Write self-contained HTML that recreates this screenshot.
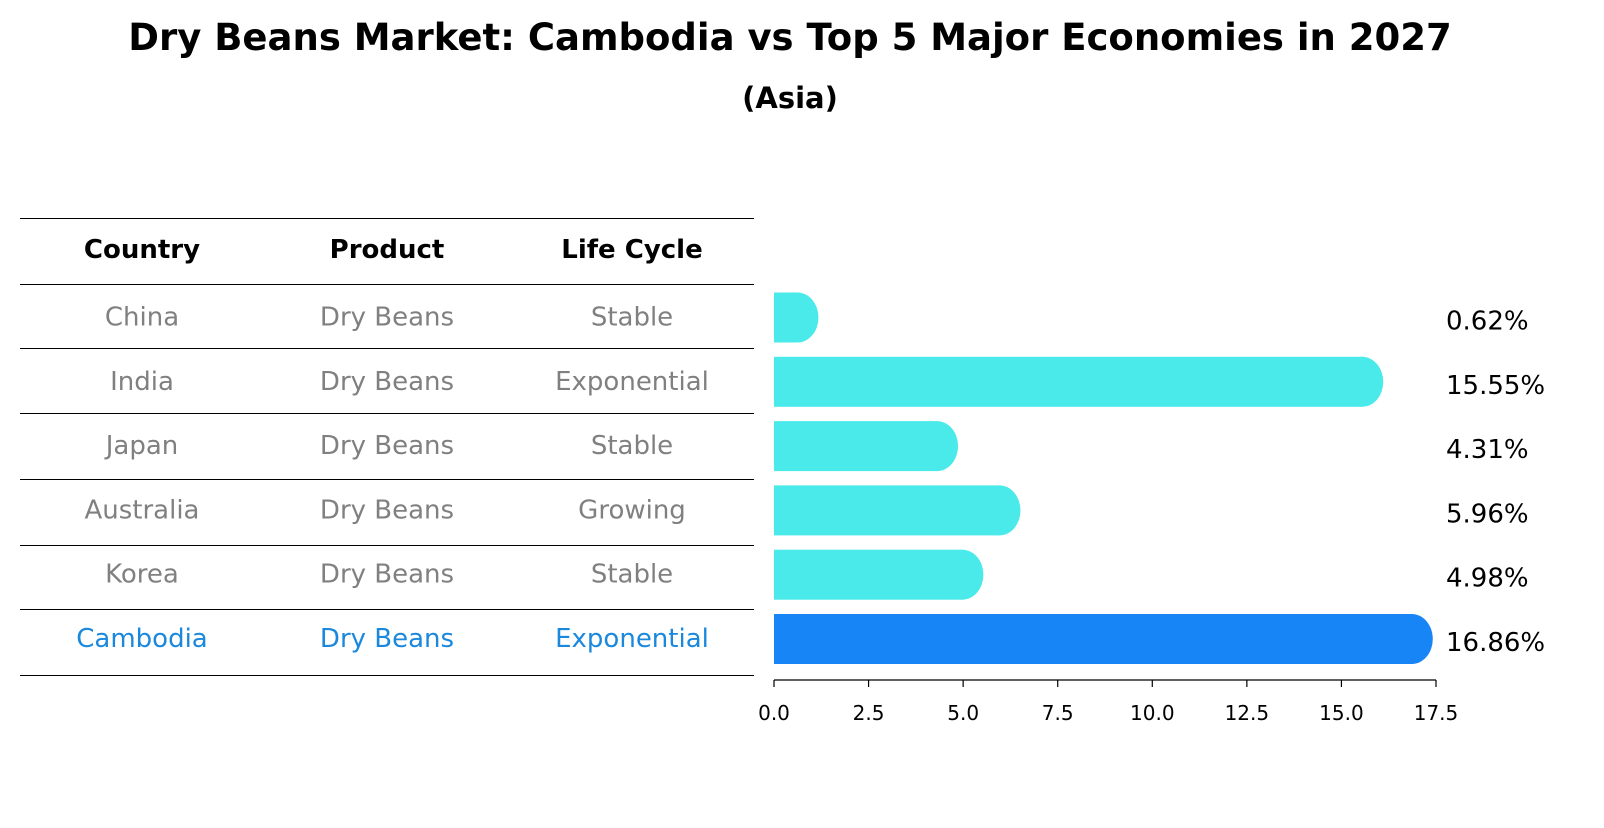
<!DOCTYPE html>
<html><head><meta charset="utf-8"><style>
body{margin:0;background:#fff;font-family:"Liberation Sans","DejaVu Sans",sans-serif}
svg text{font-family:"DejaVu Sans","Liberation Sans",sans-serif}
</style></head><body>
<svg id="c" width="1604" height="823" xmlns="http://www.w3.org/2000/svg">
<defs><clipPath id="clipBars"><rect x="774" y="250" width="800" height="440"/></clipPath></defs>
<text x="790" y="50" text-anchor="middle" font-size="37" font-weight="bold">Dry Beans Market: Cambodia vs Top 5 Major Economies in 2027</text>
<text x="790" y="108" text-anchor="middle" font-size="29" font-weight="bold">(Asia)</text>
<g id="table"></g>
<g id="bars"></g>
</svg>
<script>
const countries=["China","India","Japan","Australia","Korea","Cambodia"];
const products=["Dry Beans","Dry Beans","Dry Beans","Dry Beans","Dry Beans","Dry Beans"];
const lifecycles=["Stable","Exponential","Stable","Growing","Stable","Exponential"];
const values=[0.62,15.55,4.31,5.96,4.98,16.86];
const ticks=[0,2.5,5,7.5,10,12.5,15,17.5];
const NS="http://www.w3.org/2000/svg";
function mk(t,a,p){const e=document.createElementNS(NS,t);for(const k in a)e.setAttribute(k,a[k]);p.appendChild(e);return e;}
const x=v=>774+v*(662/17.5);
const rowY=i=>317.5+i*64.3;
const tb=document.getElementById('table'), bg=document.getElementById('bars');
const barLayer=mk('g',{'clip-path':'url(#clipBars)'},bg);
const lines=[218,284,348,413,479,545,609,675];
lines.forEach(y=>{const l=mk('line',{x1:20,x2:754,y1:y+0.5,y2:y+0.5,stroke:'#000','stroke-width':1},tb);

});
const cols=[142,387,632];
["Country","Product","Life Cycle"].forEach((h,j)=>{const t=mk('text',{x:cols[j],y:258,'text-anchor':'middle','font-size':26,'font-weight':'bold'},tb);t.textContent=h;

});
countries.forEach((c,i)=>{
 const col=c==="Cambodia"?"#1a88dd":"#808080";
 const cy=rowY(i)+6;
 [c,products[i],lifecycles[i]].forEach((s,j)=>{const t=mk('text',{x:cols[j],y:cy+2,'text-anchor':'middle','font-size':26,fill:col},tb);t.textContent=s;
 
 });
 const fill=c==="Cambodia"?"#1785f5":"#4aeaea";
 const yc=rowY(i), h=50;
 const r=mk('rect',{x:774,y:yc-h/2,width:Math.max(0,x(values[i])-774),height:h,fill:fill},barLayer);
 
 
 const cap=mk('ellipse',{cx:x(values[i]),cy:yc,rx:21,ry:h/2,fill:fill},barLayer);
 
 
 const vt=mk('text',{x:1446,y:yc+12,'font-size':26},bg);vt.textContent=values[i].toFixed(2)+"%";
 
 
});
const ax=mk('line',{x1:774,x2:1436,y1:680,y2:680,stroke:'#000','stroke-width':1.2},bg);


ticks.forEach(v=>{const tl=mk('line',{x1:x(v),x2:x(v),y1:680,y2:687,stroke:'#000','stroke-width':1.2},bg);


const t=mk('text',{x:x(v),y:720,'text-anchor':'middle','font-size':20},bg);t.textContent=v.toFixed(1);

});
</script>
</body></html>
